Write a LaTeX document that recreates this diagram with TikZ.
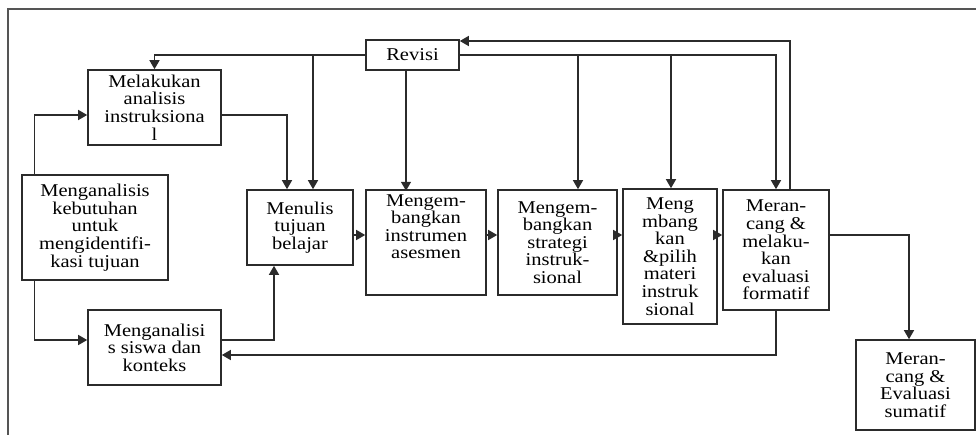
\documentclass[tikz,border=0pt]{standalone}
\usepackage{fontspec}
\setmainfont[FakeStretch=1.14]{Liberation Serif}
\usetikzlibrary{arrows.meta,calc}
\definecolor{ln}{HTML}{2B2B2B}
\newcommand{\boxfont}{\fontsize{18}{17.6}\selectfont\lineskiplimit=-20pt\relax}
\tikzset{
  box/.style={draw=ln, line width=1.6pt, align=center, inner sep=0pt,
    font=\boxfont, text=black},
  lbl/.style={align=center, inner sep=0pt, font=\boxfont, text=black},
  arr/.style={draw=ln, line width=1.4pt, -{Triangle[length=9pt,width=10pt]}},
  frame/.style={draw=ln!80, line width=1.4pt}
}
\begin{document}
\begin{tikzpicture}[x=1pt,y=-1pt]
\useasboundingbox (0,0) rectangle (976,435);
\draw[frame] (8,436) -- (8,9) -- (977,9);
% boxes
\node[box, minimum width=93pt, minimum height=30pt] (rev) at (412.5,55) {Revisi};
\node[box, minimum width=133pt, minimum height=75pt] (mel) at (154.5,107.5) {Melakukan\\analisis\\instruksiona\\l};
\node[box, minimum width=146pt, minimum height=105pt] (keb) at (95,227.5) {Menganalisis\\kebutuhan\\untuk\\mengidentifi-\\kasi tujuan};
\node[box, minimum width=106pt, minimum height=75pt] (tuj) at (300,227.5) {Menulis\\tujuan\\belajar};
\node[box, minimum width=120pt, minimum height=105pt] (ins) at (426,242.5) {};
\node[lbl, anchor=north] (insT) at ($(ins.north)+(0,5)$) {Mengem-\\bangkan\\instrumen\\asesmen};
\node[box, minimum width=119pt, minimum height=105pt] (str) at (557.5,242.5) {Mengem-\\bangkan\\strategi\\instruk-\\sional};
\node[box, minimum width=94pt, minimum height=135pt] (mat) at (670,256.5) {Meng\\mbang\\kan\\\&pilih\\materi\\instruk\\sional};
\node[box, minimum width=106pt, minimum height=120pt] (for) at (776,250) {Meran-\\cang \&\\melaku-\\kan\\evaluasi\\formatif};
\node[box, minimum width=133pt, minimum height=75pt] (sis) at (154.5,347.5) {Menganalisi\\s siswa dan\\konteks};
\node[box, minimum width=119pt, minimum height=90pt] (sum) at (915.5,385) {Meran-\\cang \&\\Evaluasi\\sumatif};
\coordinate (hy) at (0,235);
% revision arrows
\draw[arr] (rev.west) -| (mel.north);
\draw[arr] ($(tuj.north)+(13,-135)$) -- ($(tuj.north)+(13,0)$);
\draw[arr] ($(rev.south)+(-6.5,0)$) -- ($(rev.south)+(-6.5,120)$);
\draw[arr] (rev.east) -| (for.north);
\draw[arr] ($(str.north)+(20.5,-135)$) -- ($(str.north)+(20.5,0)$);
\draw[arr] ($(mat.north)+(1,-134)$) -- ($(mat.north)+(1,0)$);
\draw[arr] ($(for.north)+(14,0)$) |- ($(rev.east)+(0,-14)$);
% left side
\draw[arr] ($(mel.east)+(0,7.5)$) -| ($(tuj.north)+(-13,0)$);
\draw[arr] ($(keb.north west)+(13,0)$) |- ($(mel.west)+(0,7.5)$);
\draw[arr] ($(keb.south west)+(13,0)$) |- ($(sis.west)+(0,-7.5)$);
\draw[arr] ($(sis.east)+(0,-7.5)$) -| ($(tuj.south)+(-26,0)$);
\draw[arr] (for.south) |- ($(sis.east)+(0,7.5)$);
% main chain
\draw[arr] (tuj.east |- hy) -- (ins.west |- hy);
\draw[arr] (ins.east |- hy) -- (str.west |- hy);
\draw[arr] (str.east |- hy) -- (mat.west |- hy);
\draw[arr] (mat.east |- hy) -- (for.west |- hy);
\draw[arr] (for.east |- hy) -| ($(sum.north)+(-6.5,0)$);
\end{tikzpicture}
\end{document}
